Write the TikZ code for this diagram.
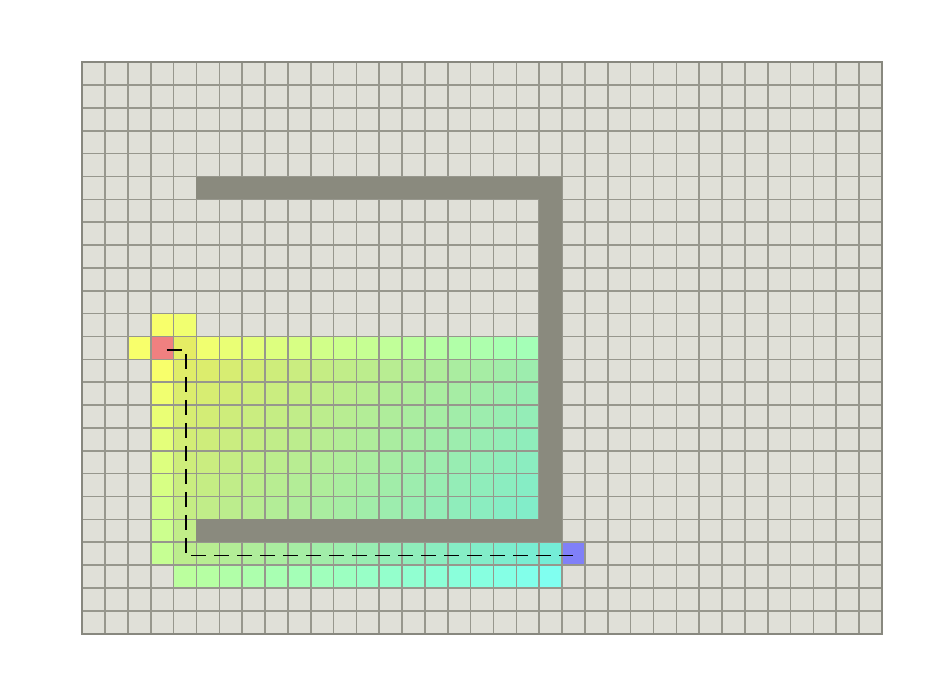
\documentclass[tikz,border=0pt]{standalone}
\begin{document}
\def\ox{82.2}
\def\oy{62.3}
\def\pitch{22.85}
\definecolor{bgcell}{RGB}{224,224,216}
\definecolor{gridc}{RGB}{151,151,141}
\definecolor{wallc}{RGB}{138,138,126}
\definecolor{startc}{RGB}{240,128,128}
\definecolor{goalc}{RGB}{128,128,248}
\newcommand\opencell[2]{%
  \pgfmathsetmacro\tval{(abs(#1-3)+abs(#2-12))/27}%
  \pgfmathsetmacro\sval{0.5*\tval+0.5*(1-(1-\tval)^2)}%
  \pgfmathtruncatemacro\Rval{255-127*\sval}%
  \pgfmathtruncatemacro\Bval{102+138*\tval}%
  \definecolor{cellc}{RGB}{\Rval,255,\Bval}%
  \fill[cellc] ({\ox+#1*\pitch},{\oy+#2*\pitch}) rectangle ++(\pitch,\pitch);}
\newcommand\closedcell[2]{%
  \pgfmathsetmacro\tval{(abs(#1-3)+abs(#2-12))/27}%
  \pgfmathtruncatemacro\Rval{234-122*\tval}%
  \pgfmathtruncatemacro\Bval{96+124*\tval}%
  \definecolor{cellc}{RGB}{\Rval,237,\Bval}%
  \fill[cellc] ({\ox+#1*\pitch},{\oy+#2*\pitch}) rectangle ++(\pitch,\pitch);}
\begin{tikzpicture}[x=1pt,y=-1pt,
  gridline/.style={draw=gridc,line width=1.6pt},
  borderline/.style={draw=gridc!90!black,line width=2pt},
  wall/.style={fill=wallc},
  pathline/.style={draw=black,line width=1.5pt,dash pattern=on 15pt off 8pt,dash phase=18.5pt}]
\useasboundingbox (0,0) rectangle (932,684);
% background of the grid
\fill[bgcell] (\ox,\oy) rectangle ++({35*\pitch},{25*\pitch});
% open (frontier) cells
\opencell{3}{11}
\opencell{4}{11}
\opencell{2}{12}
\foreach \c in {5,...,19} {\opencell{\c}{12}}
\foreach \r in {13,...,21} {\opencell{3}{\r}}
\foreach \c in {4,...,20} {\opencell{\c}{22}}
% closed (expanded) cells
\closedcell{4}{12}
\foreach \r in {13,...,19} {\foreach \c in {4,...,19} {\closedcell{\c}{\r}}}
\closedcell{4}{20}
\foreach \c in {4,...,20} {\closedcell{\c}{21}}
% start and goal
\fill[startc] ({\ox+3*\pitch},{\oy+12*\pitch}) rectangle ++(\pitch,\pitch);
\fill[goalc] ({\ox+21*\pitch},{\oy+21*\pitch}) rectangle ++(\pitch,\pitch);
% grid lines
\foreach \i in {1,...,34} {\draw[gridline] ({\ox+\i*\pitch},\oy) -- ++(0,{25*\pitch});}
\foreach \j in {1,...,24} {\draw[gridline] (\ox,{\oy+\j*\pitch}) -- ++({35*\pitch},0);}
\draw[borderline] (\ox,\oy) rectangle ++({35*\pitch},{25*\pitch});
% walls
\fill[wall] ({\ox+5*\pitch},{\oy+5*\pitch}) rectangle ({\ox+21*\pitch},{\oy+6*\pitch});
\fill[wall] ({\ox+20*\pitch},{\oy+5*\pitch}) rectangle ({\ox+21*\pitch},{\oy+21*\pitch});
\fill[wall] ({\ox+5*\pitch},{\oy+20*\pitch}) rectangle ({\ox+21*\pitch},{\oy+21*\pitch});
% path
\coordinate (start) at ({\ox+3.5*\pitch},{\oy+12.5*\pitch+2});
\coordinate (turnA) at ({\ox+4.5*\pitch+0.8},{\oy+12.5*\pitch+2});
\coordinate (turnB) at ({\ox+4.5*\pitch+0.8},{\oy+21.5*\pitch+2});
\coordinate (goal) at ({\ox+21.5*\pitch},{\oy+21.5*\pitch+2});
\draw[pathline] (start) -- (turnA) -- (turnB) -- (goal);
\end{tikzpicture}
\end{document}
